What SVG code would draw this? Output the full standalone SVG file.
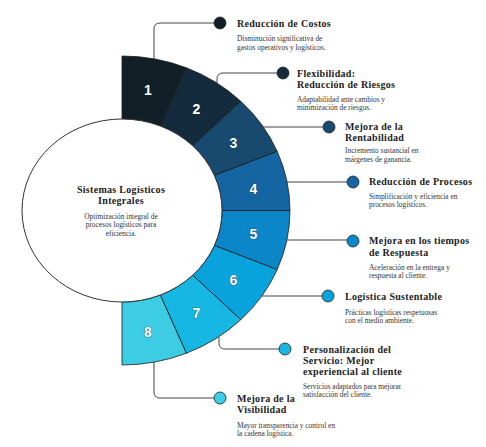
<svg xmlns="http://www.w3.org/2000/svg" width="486" height="447" viewBox="0 0 486 447">
<style>
.seg{stroke:#1a1a1a;stroke-width:0.8}
.num{font-family:"Liberation Sans",Arial,sans-serif;font-weight:bold;font-size:14px;fill:#ffffff;text-anchor:middle;stroke:#1b2a33;stroke-width:0.6;paint-order:stroke}
.ttl{font-family:"Liberation Serif","Times New Roman",serif;font-weight:bold;font-size:10px;fill:#222;letter-spacing:0.3px}
.dsc{font-family:"Liberation Serif","Times New Roman",serif;font-size:7.4px;fill:#333}
.con{fill:none;stroke:#444;stroke-width:1}
.dot{stroke:#222;stroke-width:0.8}
</style>
<rect width="486" height="447" fill="#ffffff"/>
<g id="ring">
<path class="seg" fill="#111f27" d="M122 56 A168 154.5 0 0 1 186.29 67.76 L160.27 125.97 A100 91.5 0 0 0 122 119 Z"/>
<path class="seg" fill="#142b3d" d="M186.29 67.76 A168 154.5 0 0 1 240.79 101.25 L192.71 145.8 A100 91.5 0 0 0 160.27 125.97 Z"/>
<path class="seg" fill="#174a6e" d="M240.79 101.25 A168 154.5 0 0 1 277.21 151.38 L214.39 175.48 A100 91.5 0 0 0 192.71 145.8 Z"/>
<path class="seg" fill="#1565a2" d="M277.21 151.38 A168 154.5 0 0 1 290 210.5 L222 210.5 A100 91.5 0 0 0 214.39 175.48 Z"/>
<path class="seg" fill="#0b87c9" d="M290 210.5 A168 154.5 0 0 1 277.21 269.62 L214.39 245.52 A100 91.5 0 0 0 222 210.5 Z"/>
<path class="seg" fill="#08a3dc" d="M277.21 269.62 A168 154.5 0 0 1 240.79 319.75 L192.71 275.2 A100 91.5 0 0 0 214.39 245.52 Z"/>
<path class="seg" fill="#16b7e3" d="M240.79 319.75 A168 154.5 0 0 1 186.29 353.24 L160.27 295.03 A100 91.5 0 0 0 192.71 275.2 Z"/>
<path class="seg" fill="#3ccce4" d="M186.29 353.24 A168 154.5 0 0 1 122 365 L122 302 A100 91.5 0 0 0 160.27 295.03 Z"/>
<text class="num" x="148" y="95">1</text>
<text class="num" x="196.5" y="113.5">2</text>
<text class="num" x="233.5" y="147.5">3</text>
<text class="num" x="253.5" y="194">4</text>
<text class="num" x="253.5" y="239">5</text>
<text class="num" x="233.5" y="285">6</text>
<text class="num" x="196.5" y="318">7</text>
<text class="num" x="148" y="337">8</text>
</g>
<g id="center">
<ellipse cx="122" cy="210.5" rx="100" ry="91.5" fill="#ffffff" stroke="#333" stroke-width="1"/>
<text class="ttl" x="121" text-anchor="middle"><tspan x="121" y="192.5">Sistemas Logísticos</tspan><tspan x="121" y="204">Integrales</tspan></text>
<text class="dsc" text-anchor="middle"><tspan x="121" y="218.5">Optimización integral de</tspan><tspan x="121" y="227">procesos logísticos para</tspan><tspan x="121" y="235.5">eficiencia.</tspan></text>
</g>
<g id="connectors">
<path class="con" d="M154 59 V29 Q154 23 160 23 H214"/>
<path class="con" d="M217 83 V79 Q217 73 223 73 H277"/>
<path class="con" d="M263 127 H323"/>
<path class="con" d="M287 182 H347"/>
<path class="con" d="M287 240 H347"/>
<path class="con" d="M262 296 H322"/>
<path class="con" d="M219 337 V343 Q219 349 225 349 H279"/>
<path class="con" d="M154 362 V392 Q154 398 160 398 H214"/>
</g>
<g id="item1">
<circle class="dot" cx="220" cy="23" r="6" fill="#111f27"/>
<text class="ttl" x="237" y="26.5">Reducción de Costos</text>
<text class="dsc"><tspan x="237" y="41">Disminución significativa de</tspan><tspan x="237" y="49.5">gastos operativos y logísticos.</tspan></text>
</g>
<g id="item2">
<circle class="dot" cx="283" cy="73" r="6" fill="#142b3d"/>
<text class="ttl"><tspan x="297" y="76.5">Flexibilidad:</tspan><tspan x="297" y="88">Reducción de Riesgos</tspan></text>
<text class="dsc"><tspan x="297" y="101.5">Adaptabilidad ante cambios y</tspan><tspan x="297" y="110">minimización de riesgos.</tspan></text>
</g>
<g id="item3">
<circle class="dot" cx="329" cy="127" r="6" fill="#174a6e"/>
<text class="ttl"><tspan x="345" y="129.5">Mejora de la</tspan><tspan x="345" y="141">Rentabilidad</tspan></text>
<text class="dsc"><tspan x="345" y="153">Incremento sustancial en</tspan><tspan x="345" y="161.5">márgenes de ganancia.</tspan></text>
</g>
<g id="item4">
<circle class="dot" cx="353" cy="182" r="6" fill="#1565a2"/>
<text class="ttl" x="369" y="184.5">Reducción de Procesos</text>
<text class="dsc"><tspan x="369" y="198.5">Simplificación y eficiencia en</tspan><tspan x="369" y="207">procesos logísticos.</tspan></text>
</g>
<g id="item5">
<circle class="dot" cx="353" cy="241" r="6" fill="#0b87c9"/>
<text class="ttl"><tspan x="369" y="244">Mejora en los tiempos</tspan><tspan x="369" y="255.5">de Respuesta</tspan></text>
<text class="dsc"><tspan x="369" y="269.5">Aceleración en la entrega y</tspan><tspan x="369" y="278">respuesta al cliente.</tspan></text>
</g>
<g id="item6">
<circle class="dot" cx="328" cy="296" r="6" fill="#08a3dc"/>
<text class="ttl" x="345" y="299.5">Logística Sustentable</text>
<text class="dsc"><tspan x="345" y="314.5">Prácticas logísticas respetuosas</tspan><tspan x="345" y="323">con el medio ambiente.</tspan></text>
</g>
<g id="item7">
<circle class="dot" cx="285" cy="349" r="6" fill="#16b7e3"/>
<text class="ttl"><tspan x="303" y="352.5">Personalización del</tspan><tspan x="303" y="363.5">Servicio: Mejor</tspan><tspan x="303" y="374.5">experiencial al cliente</tspan></text>
<text class="dsc"><tspan x="303" y="388.5">Servicios adaptados para mejorar</tspan><tspan x="303" y="397">satisfacción del cliente.</tspan></text>
</g>
<g id="item8">
<circle class="dot" cx="220" cy="398" r="6" fill="#3ccce4"/>
<text class="ttl"><tspan x="237" y="402">Mejora de la</tspan><tspan x="237" y="413">Visibilidad</tspan></text>
<text class="dsc"><tspan x="237" y="427.5">Mayor transparencia y control en</tspan><tspan x="237" y="436">la cadena logística.</tspan></text>
</g>
</svg>
